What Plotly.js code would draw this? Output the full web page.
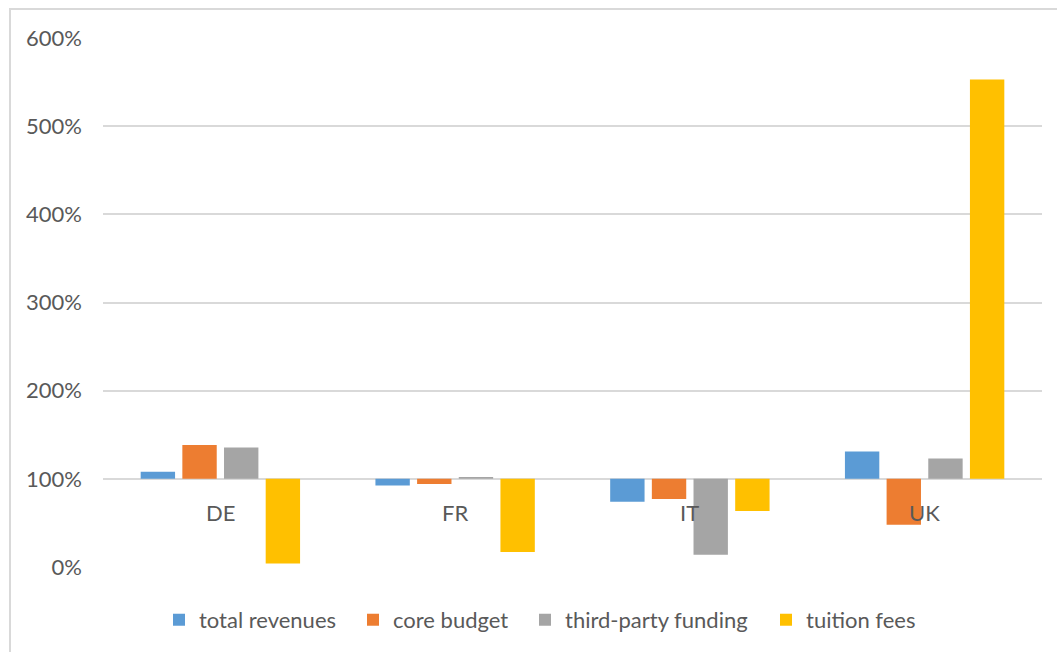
<!DOCTYPE html>
<html>
<head>
<meta charset="utf-8">
<script src="https://cdn.plot.ly/plotly-3.0.1.min.js"></script>
<style>html,body{margin:0;padding:0;background:#fff;}#chart{width:1057px;height:652px;}</style>
</head>
<body>
<div id="chart"></div>
<script>
const categories = ["DE", "FR", "IT", "UK"];
const seriesNames = ["total revenues", "core budget", "third-party funding", "tuition fees"];
const totalRevenues = [1.08, 0.925, 0.74, 1.31];
const coreBudget = [1.385, 0.94, 0.77, 0.48];
const thirdPartyFunding = [1.355, 1.02, 0.14, 1.23];
const tuitionFees = [0.04, 0.17, 0.635, 5.53];
const colors = ["#5B9BD5", "#ED7D31", "#A5A5A5", "#FFC000"];
const yTickVals = [0, 1, 2, 3, 4, 5, 6];
const baseline = 1;

const FONT = "Lato, 'Noto Sans', sans-serif";
const TXT = "#595959";
const PL = 103, PW = 939;

const allSeries = [totalRevenues, coreBudget, thirdPartyFunding, tuitionFees];
const legendIds = ["legend", "legend2", "legend3", "legend4"];
// left pixel position of each legend entry (layout only)
const legendPx = [159, 353, 525, 766];

const traces = allSeries.map((vals, i) => ({
  type: "bar",
  name: seriesNames[i],
  x: categories,
  y: vals.map(v => v - baseline),
  base: baseline,
  marker: {color: colors[i]},
  legend: legendIds[i],
  hovertemplate: "%{x}: %{customdata:.0%}<extra>" + seriesNames[i] + "</extra>",
  customdata: vals
}));

const annotations = categories.map(c => ({
  x: c, y: baseline, xref: "x", yref: "y",
  text: c, showarrow: false, yanchor: "top", yshift: -18,
  font: {family: FONT, size: 22, color: TXT}
}));

const layout = {
  width: 1057, height: 652,
  margin: {l: PL, r: 15, t: 38, b: 84},
  paper_bgcolor: "#fff", plot_bgcolor: "#fff",
  barmode: "group", bargap: 0.29, bargroupgap: 0.175,
  font: {family: FONT, size: 22, color: TXT},
  xaxis: {showticklabels: false, showgrid: false, zeroline: false, showline: false, ticks: ""},
  yaxis: {range: [0, 6], tickvals: yTickVals, tickformat: ".0%", showgrid: true,
          gridcolor: "#d9d9d9", gridwidth: 2, zeroline: false, showline: false,
          ticks: "", ticklabelstandoff: 20, tickfont: {family: FONT, size: 22, color: TXT}},
  showlegend: true,
  annotations: annotations,
  shapes: [{type: "rect", xref: "paper", yref: "paper",
            x0: (10 - PL) / PW, x1: 1.1, y0: -0.3, y1: (568 - 9) / 530,
            line: {color: "#d9d9d9", width: 2}, fillcolor: "rgba(0,0,0,0)", layer: "below"}]
};
legendIds.forEach((id, i) => {
  layout[id] = {orientation: "h", x: (legendPx[i] - PL) / PW, xanchor: "left",
                y: -0.098, yanchor: "middle", itemwidth: 30,
                font: {family: FONT, size: 22, color: TXT}, bgcolor: "rgba(0,0,0,0)"};
});

Plotly.newPlot("chart", traces, layout, {displayModeBar: false, staticPlot: true});
</script>
</body>
</html>
